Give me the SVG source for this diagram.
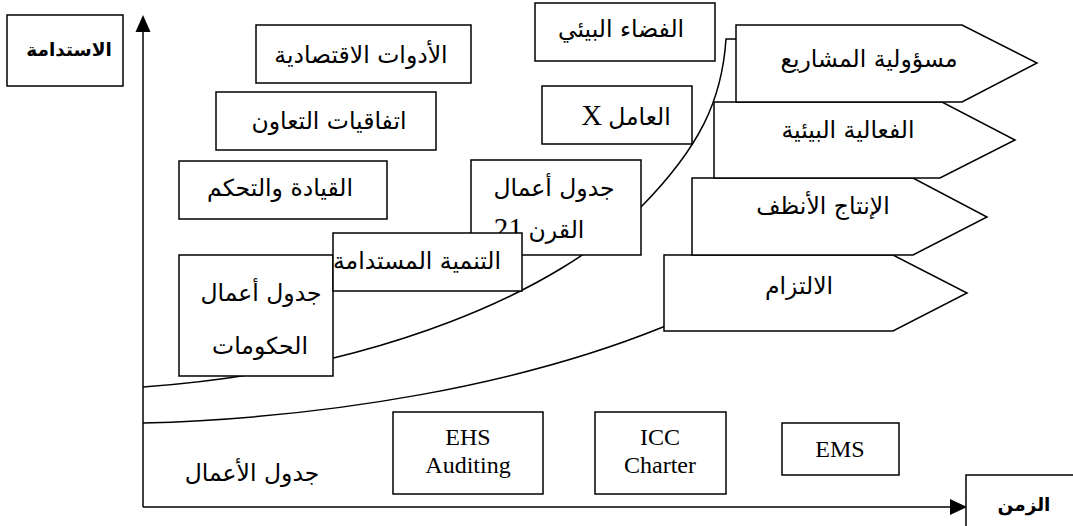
<svg xmlns="http://www.w3.org/2000/svg" width="1073" height="526" viewBox="0 0 1073 526">
  <style>
    .box { fill: #fff; stroke: #000; stroke-width: 1.5; }
    .line { fill: none; stroke: #000; stroke-width: 1.5; }
    .ar { font-family: "DejaVu Sans", sans-serif; font-size: 23.5px; fill: #000; text-anchor: middle; direction: rtl; unicode-bidi: embed; }
    .arb { font-family: "DejaVu Sans", sans-serif; font-size: 18.5px; font-weight: bold; fill: #000; text-anchor: middle; direction: rtl; unicode-bidi: embed; }
    .lat { font-family: "Liberation Serif", serif; font-size: 24px; fill: #000; text-anchor: middle; }
    .mix { font-family: "Liberation Serif", "DejaVu Sans", serif; font-size: 23.5px; fill: #000; text-anchor: middle; direction: rtl; unicode-bidi: embed; }
    .big { font-size: 29px; }
  </style>
  <rect width="1073" height="526" fill="#fff"/>

  <!-- axes and growth curves -->
  <g id="connectors">
    <line class="line" x1="143" y1="507" x2="143" y2="32"/>
    <path d="M143,15 L135.5,32 L150.5,32 Z" fill="#000"/>
    <line class="line" x1="143" y1="507" x2="950" y2="507"/>
    <path d="M967,507 L950,499 L950,515 Z" fill="#000"/>
    <path class="line" d="M143,387 C380,370 560,290 641,207 C700,147 722,100 726,39 L737,39"/>
    <path class="line" d="M143,423 C330,418 520,385 663,327 L700,310"/>
  </g>

  <!-- axis labels -->
  <g id="axis-y">
    <rect class="box" x="7" y="15" width="116" height="71"/>
    <text class="arb" x="69" y="56">الاستدامة</text>
  </g>
  <g id="axis-x">
    <rect class="box" x="966" y="475" width="120" height="60"/>
    <text class="arb" x="1024" y="511">الزمن</text>
  </g>

  <!-- government agenda -->
  <g id="economic-tools">
    <rect class="box" x="256" y="25" width="215" height="58"/>
    <text class="ar" x="361" y="63">الأدوات الاقتصادية</text>
  </g>
  <g id="cooperation-agreements">
    <rect class="box" x="216" y="92" width="220" height="58"/>
    <text class="ar" x="329" y="129">اتفاقيات التعاون</text>
  </g>
  <g id="command-control">
    <rect class="box" x="179" y="161" width="208" height="58"/>
    <text class="ar" x="280" y="196">القيادة والتحكم</text>
  </g>
  <g id="government-agenda">
    <rect class="box" x="179" y="255" width="154" height="121"/>
    <text class="ar" x="261" y="301">جدول أعمال</text>
    <text class="ar" x="260" y="354">الحكومات</text>
  </g>

  <!-- sustainable development -->
  <g id="environmental-space">
    <rect class="box" x="535" y="3" width="180" height="58"/>
    <text class="ar" x="621" y="37">الفضاء البيئي</text>
  </g>
  <g id="factor-x">
    <rect class="box" x="542" y="86" width="150" height="58"/>
    <text class="mix" x="626" y="125">العامل <tspan class="big">X</tspan></text>
  </g>
  <g id="agenda-21">
    <rect class="box" x="471" y="160" width="170" height="95"/>
    <text class="ar" x="554" y="196">جدول أعمال</text>
    <text class="mix" x="539" y="238">القرن <tspan class="big">21</tspan></text>
  </g>
  <g id="sustainable-development">
    <rect class="box" x="333" y="233" width="189" height="58"/>
    <text class="ar" x="417" y="269">التنمية المستدامة</text>
  </g>

  <!-- business agenda -->
  <g id="business-agenda">
    <text class="ar" x="252" y="481">جدول الأعمال</text>
  </g>
  <g id="ehs-auditing">
    <rect class="box" x="393" y="412" width="150" height="82"/>
    <text class="lat" x="468" y="445">EHS</text>
    <text class="lat" x="468" y="473">Auditing</text>
  </g>
  <g id="icc-charter">
    <rect class="box" x="595" y="412" width="131" height="82"/>
    <text class="lat" x="660" y="445">ICC</text>
    <text class="lat" x="660" y="473">Charter</text>
  </g>
  <g id="ems">
    <rect class="box" x="782" y="423" width="117" height="52"/>
    <text class="lat" x="840" y="457">EMS</text>
  </g>

  <!-- corporate stages -->
  <g id="commitment">
    <polygon class="box" points="664,255 893,255 967,293 893,331 664,331"/>
    <text class="ar" x="799" y="294">الالتزام</text>
  </g>
  <g id="cleaner-production">
    <polygon class="box" points="692,178 913,178 987,217 913,255 692,255"/>
    <text class="ar" x="823" y="214">الإنتاج الأنظف</text>
  </g>
  <g id="eco-efficiency">
    <polygon class="box" points="714,102 942,102 1015,140 940,178 714,178"/>
    <text class="ar" x="848" y="138">الفعالية البيئية</text>
  </g>
  <g id="product-stewardship">
    <polygon class="box" points="736,25 962,25 1037,63 962,102 736,102"/>
    <text class="ar" x="869" y="67">مسؤولية المشاريع</text>
  </g>
</svg>
